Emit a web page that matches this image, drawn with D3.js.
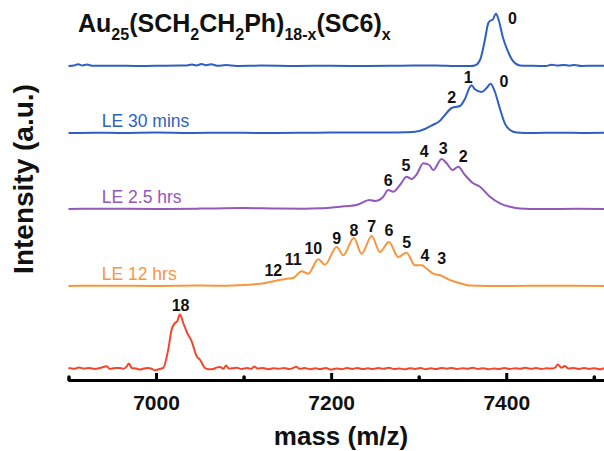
<!DOCTYPE html>
<html>
<head>
<meta charset="utf-8">
<script src="https://cdn.jsdelivr.net/npm/d3@7"></script>
<style>
  body { margin: 0; background: #fff; }
  svg { display: block; }
  text { font-family: "Liberation Sans", Arial, Helvetica, sans-serif; }
</style>
</head>
<body>
<div id="chart"></div>
<script>
// axis ticks
const massTicks = [7000, 7200, 7400];
const minorTicks = [6900, 7100, 7300, 7500];

// traces, top to bottom: [mass, intensity above own baseline]
const traceNames = ["", "LE 30 mins", "LE 2.5 hrs", "LE 12 hrs", ""];
const traceOffsets = [314, 247, 171, 94, 11];
const traceColors = ["#2f5fc0", "#2f5fc0", "#9159b9", "#f7963f", "#f2472d"];

const pureSpec = [[6900,0],[6906,0.4],[6911,1.8],[6916,0.6],[6921,1.4],[6928,0.2],[6950,0.3],[6980,0],
  [7010,0.3],[7035,0.5],[7041,1.4],[7046,0.5],[7052,1.9],[7057,0.8],[7063,1.7],[7070,0.3],[7080,0.9],
  [7092,0.1],[7120,0.4],[7160,0],[7200,0.3],[7240,0],[7280,0.3],[7320,0.6],[7345,0],[7359,0],[7364,0.5],
  [7370,6],[7375.6,26],[7379.5,43],[7382.2,45.5],[7384.5,46.3],[7388.2,52.3],[7391.3,46.3],[7395.9,29.6],
  [7401.1,16.3],[7408,4.6],[7415.6,0.6],[7430,0.2],[7445,0],[7452,1.3],[7458,0.4],[7466,1.1],[7472,0.3],
  [7478,1],[7486,0],[7500,0.3],[7520,0]];

const le30Spec = [[6900,0],[6930,0.3],[6960,0],[7000,0.4],[7040,0],[7080,0.3],[7120,0],[7160,0.3],[7200,0.4],
  [7240,0.6],[7270,0.5],[7285,0.8],[7296,1.2],[7307,4],[7316,8],[7324,12],[7330,18],[7337.6,25],[7341.4,26],
  [7347,27],[7352.8,34],[7358.5,46],[7360.5,47.7],[7364.2,43.7],[7371.9,41],[7377.6,45],[7382.2,49.3],
  [7387.1,41],[7392.8,24.3],[7398.5,9.3],[7404.2,3],[7412,0.5],[7430,0],[7460,0.3],[7490,0],[7520,0.2]];

const le25Spec = [[6900,0],[6950,0.3],[7000,0],[7050,0.4],[7100,0.9],[7140,0.4],[7170,0.3],[7187,0.7],
  [7210,2.3],[7229,4],[7244,9],[7250,8],[7259.5,12.3],[7265.2,19],[7270.9,17.3],[7278.6,24],[7286.2,32.3],
  [7291.9,30],[7297.7,34.7],[7305.2,45.7],[7312.1,44],[7316.6,39],[7326.2,50],[7331.9,45.7],[7338.8,39],
  [7345.2,42.3],[7352.8,34],[7362.3,25.7],[7370,22.3],[7381.4,12.3],[7392.8,5.7],[7404.2,2.3],[7416,0.5],
  [7440,0],[7480,0.2],[7520,0]];

const le12Spec = [[6900,0],[6950,0.3],[7000,0],[7050,0.4],[7080,0.3],[7095.8,0.7],[7118.7,2.3],[7139.6,5.7],
  [7149.2,7.3],[7156.7,8],[7166.3,14.7],[7173.8,12.3],[7185.3,26.7],[7192.9,21.3],[7206.3,39],[7213.8,30.7],
  [7226,48],[7234.8,32.3],[7246.3,50],[7255.7,34],[7266,44],[7276.6,29],[7286.2,33.3],[7295.7,20.7],
  [7303.4,20.7],[7309.1,17.3],[7316.6,12.3],[7324.3,10.7],[7333.8,6.7],[7345.2,3.3],[7358.5,0.5],[7400,0],
  [7460,0.3],[7520,0]];

const sc6Spec = [[6900,1],[6906,0.2],[6912,1.4],[6918,0.4],[6924,1],[6930,0.1],[6936,1],[6943.6,2.7],
  [6947.3,0],[6953,0.9],[6958.8,1],[6963,0.3],[6966.4,2.4],[6969,5.5],[6972.1,1],[6977,0.5],[6981.6,-0.6],
  [6986,0.6],[6991.1,1],[6995,0.2],[6998.7,-1.3],[7004,0],[7008.2,1],[7013.9,19.4],[7017.8,39.4],[7021.6,46],
  [7024.2,47.7],[7027.3,54.4],[7031.1,46],[7035.6,36],[7040.7,27.7],[7046.4,12.7],[7050.1,9.4],[7055.9,1],
  [7060,-0.3],[7065.3,0],[7069,1.4],[7073,2],[7077,0.2],[7080,3.5],[7083,0.5],[7092,1.2],[7098,0],[7104,0.9],
  [7109,0.3],[7112,2.6],[7116,0.4],[7122,1.1],[7128,-0.2],[7134,0.8],[7140,0.2],[7146,1],[7152,0],[7157,1.2],
  [7160,2.3],[7164,0.3],[7170,0.9],[7176,-0.2],[7182,0.7],[7188,0],[7194,1],[7200,-0.6],[7206,0.5],[7212,-0.2],
  [7218,0.9],[7224,0.1],[7230,1.1],[7236,-0.1],[7242,0.7],[7248,0],[7254,0.9],[7260,0.2],[7266,1.2],[7272,0],
  [7278,0.6],[7284,-0.3],[7290,0.8],[7296,0.1],[7302,1],[7308,-0.2],[7314,0.7],[7320,0],[7326,1],[7332,0.3],
  [7338,1.1],[7344,-0.1],[7350,0.8],[7356,0.2],[7362,1.2],[7368,0.1],[7374,0.7],[7380,-0.3],[7386,0.6],
  [7392,0.1],[7398,1],[7404,0],[7410,0.8],[7416,0.3],[7422,1.3],[7428,0.2],[7434,0.9],[7440,0],[7446,0.8],
  [7452,0.4],[7456,1.5],[7459,4.6],[7463,1.2],[7467,3],[7471,0.6],[7477,1],[7483,0],[7489,0.9],[7495,0.1],
  [7501,0.7],[7507,-0.3],[7513,0.9],[7520,0.2]];

const traceData = [pureSpec, le30Spec, le25Spec, le12Spec, sc6Spec];

// peak labels: [mass, height above baseline, text]
const pureLabels = [[7407, 48, "0"]];
const le30Labels = [[7337.6, 36, "2"], [7356.6, 55.5, "1"], [7397.4, 51.5, "0"]];
const le25Labels = [[7265.2, 29, "6"], [7285.4, 43.5, "5"], [7306.3, 58, "4"], [7328, 61, "3"], [7350.9, 52.5, "2"]];
const le12Labels = [[7133.9, 15.7, "12"], [7156.7, 26.7, "11"], [7179.6, 37.3, "10"], [7206.3, 47.3, "9"],
  [7226, 55.7, "8"], [7246.3, 60, "7"], [7266, 55.7, "6"], [7286.2, 43.3, "5"], [7307.1, 30.7, "4"], [7326.2, 27.3, "3"]];
const sc6Labels = [[7028, 63.5, "18"]];
const peakLabels = [pureLabels, le30Labels, le25Labels, le12Labels, sc6Labels];

const width = 604, height = 451;
const svg = d3.select("#chart").append("svg")
  .attr("width", width)
  .attr("height", height);

const x = d3.scaleLinear().domain([6900, 7520]).range([68.5, 611.3]);
const y = d3.scaleLinear().domain([0, 380]).range([380, 0]);

// traces
const line = d3.line()
  .x(d => x(d[0]))
  .y(d => y(d[1]))
  .curve(d3.curveMonotoneX);

traceData.forEach((spec, i) => {
  const off = traceOffsets[i];
  svg.append("path")
    .datum(spec.map(d => [d[0], d[1] + off]))
    .attr("fill", "none")
    .attr("stroke", traceColors[i])
    .attr("stroke-width", 2)
    .attr("stroke-linejoin", "round")
    .attr("d", line);

  if (traceNames[i]) {
    svg.append("text")
      .attr("x", x(6938))
      .attr("y", y(off + 12.5))
      .attr("dominant-baseline", "central")
      .attr("font-size", 17.5)
      .attr("fill", traceColors[i])
      .text(traceNames[i]);
  }

  svg.selectAll(null)
    .data(peakLabels[i])
    .enter().append("text")
    .attr("x", d => x(d[0]))
    .attr("y", d => y(d[1] + off))
    .attr("text-anchor", "middle")
    .attr("dominant-baseline", "central")
    .attr("font-size", 16)
    .attr("font-weight", "bold")
    .attr("fill", "#111")
    .text(d => d[2]);
});

// x axis, ticks pointing up
const axisG = svg.append("g").attr("transform", `translate(0,${y(0)})`);
axisG.call(d3.axisBottom(x).tickValues(massTicks).tickFormat(d3.format("d"))
  .tickSizeInner(-7).tickSizeOuter(0).tickPadding(15));
axisG.select(".domain").attr("stroke-width", 3.2);
axisG.selectAll(".tick line").attr("stroke-width", 3);
axisG.selectAll(".tick text")
  .attr("font-size", 21)
  .attr("font-weight", "bold")
  .attr("font-family", "'Liberation Sans', Arial, sans-serif")
  .attr("fill", "#111");

const minorG = svg.append("g").attr("transform", `translate(0,${y(0)})`);
minorG.call(d3.axisBottom(x).tickValues(minorTicks).tickFormat("")
  .tickSizeInner(-3).tickSizeOuter(0));
minorG.select(".domain").remove();
minorG.selectAll(".tick line").attr("stroke-width", 3.5).attr("stroke-linecap", "round");

// axis titles
svg.append("text")
  .attr("x", 341)
  .attr("y", 436)
  .attr("text-anchor", "middle")
  .attr("dominant-baseline", "central")
  .attr("font-size", 26)
  .attr("font-weight", "bold")
  .attr("fill", "#111")
  .text("mass (m/z)");

svg.append("text")
  .attr("transform", "translate(23,179) rotate(-90)")
  .attr("text-anchor", "middle")
  .attr("dominant-baseline", "central")
  .attr("font-size", 28)
  .attr("font-weight", "bold")
  .attr("fill", "#111")
  .text("Intensity (a.u.)");

// title with subscripts
const title = svg.append("text")
  .attr("x", 78)
  .attr("y", 32)
  .attr("font-size", 25)
  .attr("font-weight", "bold")
  .attr("fill", "#111");
const parts = [["Au", false], ["25", true], ["(SCH", false], ["2", true], ["CH", false], ["2", true],
  ["Ph)", false], ["18-x", true], ["(SC6)", false], ["x", true]];
parts.forEach(p => {
  title.append("tspan")
    .attr("font-size", p[1] ? 16 : 25)
    .attr("dy", p[1] ? 8 : -8)
    .text(p[0]);
});
title.select("tspan").attr("dy", 0);
</script>
</body>
</html>
